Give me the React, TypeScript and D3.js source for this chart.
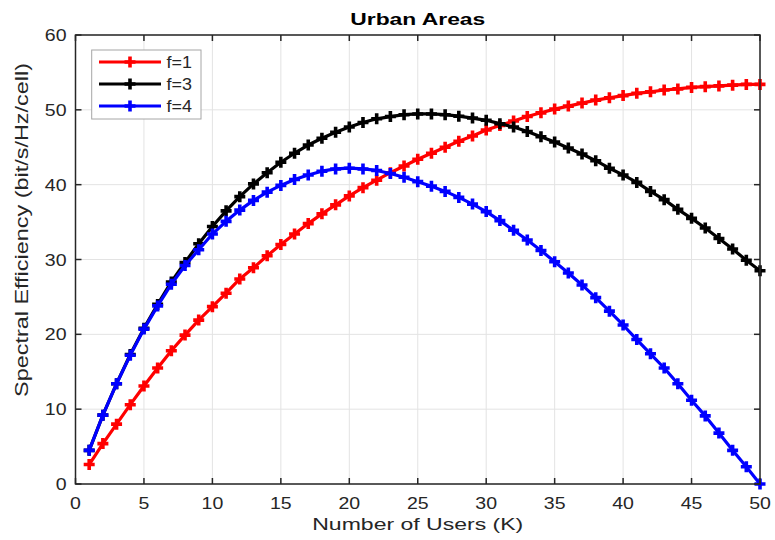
import React from 'react';
import * as d3 from 'd3';

const WIDTH = 775;
const HEIGHT = 540;

const MARGIN = { top: 35, right: 15, bottom: 56, left: 75.5 };

const users = [
  1, 2, 3, 4, 5, 6, 7, 8, 9, 10, 11, 12, 13, 14, 15, 16, 17, 18, 19, 20, 21, 22, 23, 24, 25,
  26, 27, 28, 29, 30, 31, 32, 33, 34, 35, 36, 37, 38, 39, 40, 41, 42, 43, 44, 45, 46, 47, 48, 49, 50,
];

const f1 = [
  2.6, 5.4, 8.0, 10.6, 13.1, 15.5, 17.8, 19.9, 21.9, 23.7, 25.5, 27.4, 28.9, 30.5, 32.0, 33.4, 34.8,
  36.1, 37.3, 38.5, 39.6, 40.6, 41.6, 42.5, 43.4, 44.2, 45.0, 45.8, 46.5, 47.3, 47.9, 48.5, 49.1,
  49.6, 50.1, 50.5, 50.9, 51.3, 51.6, 51.9, 52.2, 52.4, 52.65, 52.8, 53.0, 53.1, 53.2, 53.3, 53.4, 53.4,
];

const f3 = [
  4.5, 9.2, 13.4, 17.3, 20.8, 24.0, 27.0, 29.6, 32.1, 34.4, 36.5, 38.4, 40.1, 41.6, 43.0, 44.2, 45.3,
  46.2, 47.0, 47.7, 48.3, 48.8, 49.1, 49.35, 49.45, 49.45, 49.35, 49.15, 48.9, 48.6, 48.15, 47.7, 47.1,
  46.4, 45.7, 44.9, 44.1, 43.2, 42.2, 41.3, 40.3, 39.1, 38.0, 36.7, 35.5, 34.2, 32.8, 31.4, 29.9, 28.5,
];

const f4 = [
  4.5, 9.2, 13.4, 17.2, 20.7, 23.8, 26.7, 29.2, 31.3, 33.4, 35.1, 36.6, 37.9, 39.0, 39.9, 40.7, 41.3,
  41.8, 42.1, 42.2, 42.1, 41.9, 41.5, 41.0, 40.4, 39.8, 39.1, 38.3, 37.4, 36.4, 35.2, 33.9, 32.6,
  31.2, 29.7, 28.2, 26.6, 24.9, 23.1, 21.25, 19.3, 17.4, 15.5, 13.4, 11.2, 9.1, 6.8, 4.5, 2.3, 0,
];

const seriesNames = ['f=1', 'f=3', 'f=4'];
const seriesColors = ['#ff0000', '#000000', '#0000ff'];
const seriesValues = [f1, f3, f4];

const xTicks = [0, 5, 10, 15, 20, 25, 30, 35, 40, 45, 50];
const yTicks = [0, 10, 20, 30, 40, 50, 60];

const FONT = 'Arial, "Liberation Sans", Helvetica, sans-serif';

// the picture is a little stretched sideways, so the text is too
const SText = ({ x, y, sx = 1.22, anchor = 'middle', size = 16, weight = 'normal', children }: any) => (
  <text
    transform={`translate(${x},${y}) scale(${sx},1)`}
    textAnchor={anchor}
    fontSize={size}
    fontWeight={weight}
    fontFamily={FONT}
    fill="#262626"
  >
    {children}
  </text>
);

const Plus = ({ x, y, color, r = 5.5 }: any) => (
  <path d={`M${x - r},${y}H${x + r}M${x},${y - r}V${y + r}`} stroke={color} strokeWidth={3.6} fill="none" />
);

export default function App() {
  const x = d3.scaleLinear().domain([0, 50]).range([MARGIN.left, WIDTH - MARGIN.right]);
  const y = d3.scaleLinear().domain([0, 60]).range([HEIGHT - MARGIN.bottom, MARGIN.top]);

  const [x0, x1] = x.range();
  const [y0, y1] = y.range();

  const line = d3.line<number>()
    .x((_, i) => x(users[i]))
    .y(d => y(d));

  const legend = { x: 91.7, y: 50, w: 109.3, h: 69 };

  return (
    <svg
      width={WIDTH}
      height={HEIGHT}
      style={{ position: 'absolute', left: 0, top: 0, background: '#fff' }}
    >
      <rect width={WIDTH} height={HEIGHT} fill="#fff" />

      {/* grid */}
      {xTicks.map(t => (
        <line key={'gx' + t} x1={x(t)} x2={x(t)} y1={y0} y2={y1} stroke="#e3e3e3" strokeWidth={1} />
      ))}
      {yTicks.map(t => (
        <line key={'gy' + t} x1={x0} x2={x1} y1={y(t)} y2={y(t)} stroke="#e3e3e3" strokeWidth={1} />
      ))}

      {/* series */}
      {seriesValues.map((vals, s) => (
        <g key={seriesNames[s]}>
          <path d={line(vals) || ''} fill="none" stroke={seriesColors[s]} strokeWidth={3.2} strokeLinejoin="round" />
          {vals.map((v, i) => (
            <Plus key={i} x={x(users[i])} y={y(v)} color={seriesColors[s]} />
          ))}
        </g>
      ))}

      {/* axes box with inward ticks */}
      <rect x={x0} y={y1} width={x1 - x0} height={y0 - y1} fill="none" stroke="#262626" strokeWidth={1.5} />
      {xTicks.map(t => (
        <g key={'tx' + t}>
          <line x1={x(t)} x2={x(t)} y1={y0} y2={y0 - 6} stroke="#262626" strokeWidth={1.5} />
          <line x1={x(t)} x2={x(t)} y1={y1} y2={y1 + 6} stroke="#262626" strokeWidth={1.5} />
          <SText x={x(t)} y={y0 + 25}>{t}</SText>
        </g>
      ))}
      {yTicks.map(t => (
        <g key={'ty' + t}>
          <line x1={x0} x2={x0 + 6} y1={y(t)} y2={y(t)} stroke="#262626" strokeWidth={1.5} />
          <line x1={x1} x2={x1 - 6} y1={y(t)} y2={y(t)} stroke="#262626" strokeWidth={1.5} />
          <SText x={x0 - 9} y={y(t) + 6} anchor="end">{t}</SText>
        </g>
      ))}

      {/* labels */}
      <text x={(x0 + x1) / 2} y={25} textAnchor="middle" fontSize={16} fontWeight="bold" fontFamily={FONT}
        textLength={135} lengthAdjust="spacingAndGlyphs" fill="#000">Urban Areas</text>
      <text x={(x0 + x1) / 2} y={530} textAnchor="middle" fontSize={17} fontFamily={FONT}
        textLength={211} lengthAdjust="spacingAndGlyphs" fill="#262626">Number of Users (K)</text>
      <g transform="translate(28,230) rotate(-90) scale(1,1.05)">
        <text x={0} y={0} textAnchor="middle" fontSize={17} fontFamily={FONT} fill="#262626"
          textLength={334} lengthAdjust="spacingAndGlyphs">
          Spectral Efficiency (bit/s/Hz/cell)
        </text>
      </g>

      {/* legend */}
      <rect x={legend.x} y={legend.y} width={legend.w} height={legend.h} fill="#fff" stroke="#a6a6a6" strokeWidth={1} />
      {seriesNames.map((n, s) => {
        const ly = 62 + s * 22;
        return (
          <g key={'lg' + n}>
            <line x1={99} x2={161} y1={ly} y2={ly} stroke={seriesColors[s]} strokeWidth={3.2} />
            <Plus x={130} y={ly} color={seriesColors[s]} />
            <SText x={166.5} y={ly + 6} anchor="start" sx={1.12}>{n}</SText>
          </g>
        );
      })}
    </svg>
  );
}
